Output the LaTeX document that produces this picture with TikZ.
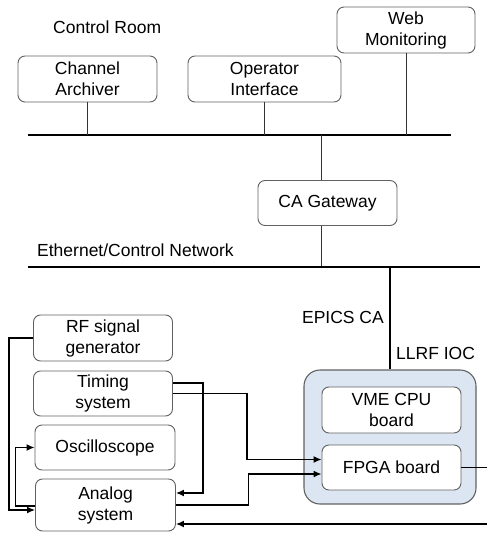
\documentclass[tikz,border=0pt]{standalone}
\usepackage{fontspec}
\setmainfont{Liberation Sans}
\usetikzlibrary{arrows.meta,calc}
\definecolor{iocfill}{RGB}{220,230,242}
\begin{document}
\begin{tikzpicture}[x=1pt,y=-1pt,
  txt/.style={font=\fontsize{17.5}{21}\selectfont, inner sep=0pt},
  unit/.style={txt, draw=black!62, line width=0.9pt, rounded corners=7pt,
    fill=white, align=center, minimum width=139pt, minimum height=46pt},
  ioc/.style={draw=black!62, line width=1.1pt, rounded corners=16pt,
    fill=iocfill, minimum width=172pt, minimum height=134pt},
  bus/.style={line width=2.4pt},
  tap/.style={line width=0.9pt, black!80},
  link/.style={line width=1.4pt},
  arr/.style={link, -{Latex[length=8pt,width=7pt]}}]
\useasboundingbox (0,0) rectangle (487,533);

% control room clients
\node[txt, anchor=west] (room) at (53,27) {Control Room};
\node[unit] (arch) at (87.5,79) {Channel\\Archiver};
\node[unit, minimum width=153pt] (opi) at (264.5,79) {Operator\\Interface};
\node[unit, minimum width=138pt] (web) at (406,30) {Web\\Monitoring};

% control room bus
\coordinate (b1l) at (28,135);
\coordinate (b1r) at (451,135);
\draw[bus] (b1l) -- (b1r);
\draw[tap] (arch.south) -- (arch.south |- b1l);
\draw[tap] (opi.south) -- (opi.south |- b1l);
\draw[tap] (web.south) -- (web.south |- b1l);

% gateway between the two networks
\node[unit, minimum height=45pt] (gw) at (327.5,203) {CA Gateway};
\coordinate (g1) at (321,135);
\coordinate (b2l) at (28,267);
\coordinate (b2r) at (480,267);
\draw[tap] (g1) -- (g1 |- gw.north);
\draw[tap] (gw.south -| g1) -- (g1 |- b2l);
\node[txt, anchor=west] (eth) at (37,250) {Ethernet/Control Network};
\draw[bus] (b2l) -- (b2r);

% LLRF IOC crate
\node[ioc] (llrf) at (390,437) {};
\node[unit] (vme) at (391.5,410) {VME CPU\\board};
\node[unit, minimum height=45pt] (fpga) at (391.5,467.5) {FPGA board};
\draw[link] (llrf.north |- b2l) -- (llrf.north);
\node[txt, anchor=east] (epics) at (384,317) {EPICS CA};
\node[txt, anchor=west] (ioclbl) at (396,353) {LLRF IOC};

% front-end equipment
\node[unit] (rf) at (103,338) {RF signal\\generator};
\node[unit, minimum height=45pt] (tim) at (103,393.5) {Timing\\system};
\node[unit, minimum width=140pt, minimum height=45pt] (osc) at (105,447.5) {Oscilloscope};
\node[unit, minimum width=140pt, minimum height=52pt] (ana) at (105.5,505) {Analog\\system};

% signal paths
\draw[arr] (rf.west) -- ++(-24,0) |- ($(ana.west)+(0,5)$);
\draw[arr] ($(ana.west)+(0,1)$) -- ++(-19.5,0) |- (osc.west);
\draw[arr] ($(tim.east)+(0,-10.5)$) -- ++(30,0) |- ($(ana.east)+(0,-12)$);
\draw[arr] (tim.east) -- ++(74,0) |- ($(fpga.west)+(0,-8)$);
\draw[arr] (ana.east) -- ++(72.5,0) |- ($(fpga.west)+(0,6.5)$);
\coordinate (rt) at (492,0);
\draw[arr] (fpga.east) -- (fpga.east -| rt) |- ($(ana.east)+(0,19)$);
\end{tikzpicture}
\end{document}
